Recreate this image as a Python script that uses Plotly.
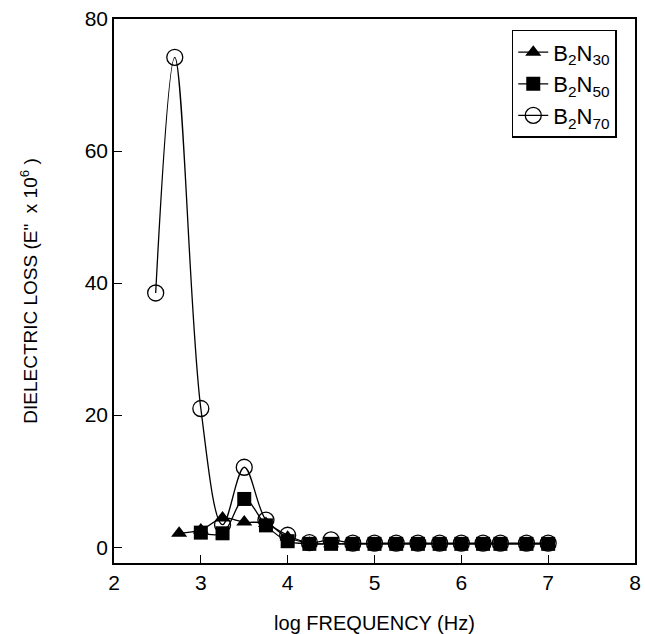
import plotly.graph_objects as go

# log frequency (Hz) sample points for each composition
x_b2n30 = [2.75, 3.0, 3.25, 3.5, 3.75, 4.0, 4.25, 4.5, 4.75, 5.0, 5.25, 5.5, 5.75, 6.0, 6.25, 6.45, 6.75, 7.0]
y_b2n30 = [2.1, 2.6, 4.4, 3.8, 3.6, 1.5, 0.6, 0.5, 0.5, 0.5, 0.5, 0.5, 0.5, 0.5, 0.5, 0.5, 0.5, 0.5]

x_b2n50 = [3.0, 3.25, 3.5, 3.75, 4.0, 4.25, 4.5, 4.75, 5.0, 5.25, 5.5, 5.75, 6.0, 6.25, 6.45, 6.75, 7.0]
y_b2n50 = [2.2, 2.1, 7.3, 3.3, 0.9, 0.5, 0.5, 0.5, 0.5, 0.5, 0.5, 0.5, 0.5, 0.5, 0.5, 0.5, 0.5]

x_b2n70 = [2.48, 2.7, 3.0, 3.25, 3.5, 3.75, 4.0, 4.25, 4.5, 4.75, 5.0, 5.25, 5.5, 5.75, 6.0, 6.25, 6.45, 6.75, 7.0]
y_b2n70 = [38.5, 74.2, 21.0, 3.4, 12.1, 4.1, 1.8, 0.7, 1.1, 0.6, 0.6, 0.6, 0.6, 0.6, 0.6, 0.6, 0.6, 0.6, 0.6]

x_ticks = [2, 3, 4, 5, 6, 7, 8]
y_ticks = [0, 20, 40, 60, 80]

FONT = "Liberation Sans, Arial, sans-serif"
LINE = dict(color="black", width=1.3, shape="spline", smoothing=1.0)

fig = go.Figure()

# circles first so the filled markers sit on top of them
fig.add_trace(go.Scatter(
    x=x_b2n70, y=y_b2n70, mode="lines+markers", name="B<sub>2</sub>N<sub>70</sub>",
    line=LINE, legendrank=3,
    marker=dict(symbol="circle-open", size=16, color="black", line=dict(width=1.3)),
))
fig.add_trace(go.Scatter(
    x=x_b2n30, y=y_b2n30, mode="lines+markers", name="B<sub>2</sub>N<sub>30</sub>",
    line=LINE, legendrank=1,
    marker=dict(symbol="triangle-up", size=14, color="black"),
))
fig.add_trace(go.Scatter(
    x=x_b2n50, y=y_b2n50, mode="lines+markers", name="B<sub>2</sub>N<sub>50</sub>",
    line=LINE, legendrank=2,
    marker=dict(symbol="square", size=14, color="black"),
))

fig.update_layout(
    width=645, height=634,
    margin=dict(l=114, r=10, t=19, b=71),
    paper_bgcolor="white", plot_bgcolor="white",
    font=dict(family=FONT, size=20, color="black"),
    showlegend=True,
    legend=dict(
        x=0.965, y=0.98, xanchor="right", yanchor="top",
        bgcolor="white", bordercolor="black", borderwidth=1.5,
        font=dict(family=FONT, size=22, color="black"),
        tracegroupgap=0, itemwidth=30,
    ),
    xaxis=dict(
        range=[2, 8], tickvals=x_ticks, ticktext=[str(v) for v in x_ticks],
        ticks="inside", ticklen=8, tickwidth=1.3, tickcolor="black",
        showline=True, linecolor="black", linewidth=1.5, mirror=True,
        showgrid=False, zeroline=False, automargin=False,
        title=dict(text="log FREQUENCY (Hz)", font=dict(family=FONT, size=20), standoff=24),
        tickfont=dict(family=FONT, size=21),
    ),
    yaxis=dict(
        range=[-2.4, 80], tickvals=y_ticks, ticktext=[str(v) for v in y_ticks],
        ticks="inside", ticklen=8, tickwidth=1.3, tickcolor="black",
        showline=True, linecolor="black", linewidth=1.5, mirror=True,
        showgrid=False, zeroline=False, automargin=False,
        title=dict(text="DIELECTRIC LOSS (E\"  x 10<sup>6</sup> )", font=dict(family=FONT, size=19), standoff=42),
        tickfont=dict(family=FONT, size=21),
    ),
)

fig.write_html("out.html")
